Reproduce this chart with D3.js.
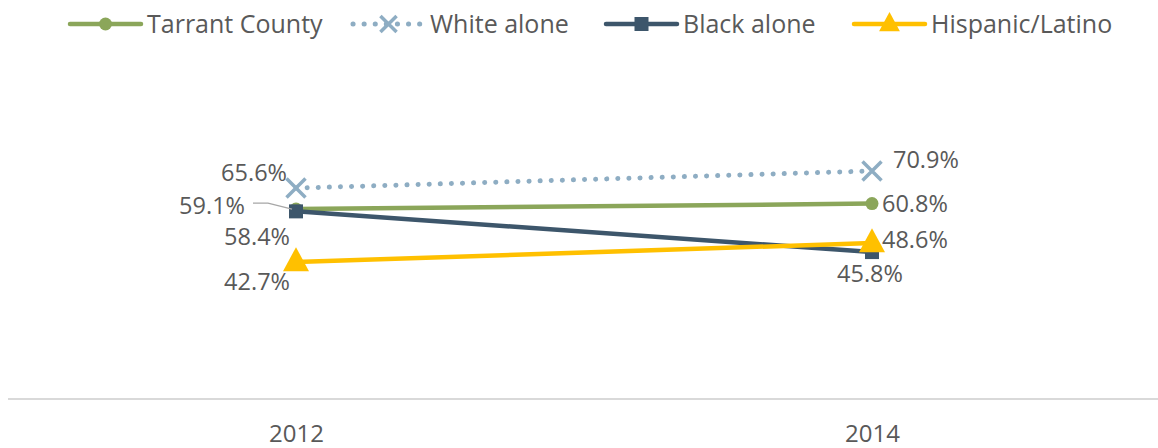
<!DOCTYPE html>
<html>
<head>
<meta charset="utf-8">
<script src="https://cdn.jsdelivr.net/npm/d3@7"></script>
<style>
  html, body { margin: 0; padding: 0; background: #fff; }
  svg { display: block; font-family: "Open Sans", sans-serif; }
</style>
</head>
<body>
<svg id="chart" width="1158" height="448"></svg>
<script>
// Share of population by group, 2012 vs 2014
const years = ["2012", "2014"];
const seriesNames = ["Tarrant County", "White alone", "Black alone", "Hispanic/Latino"];
const tarrantCounty = [59.1, 60.8];
const whiteAlone = [65.6, 70.9];
const blackAlone = [58.4, 45.8];
const hispanicLatino = [42.7, 48.6];

const W = 1158, H = 448;
const svg = d3.select("#chart");
const textColor = "#595959";

const styles = {
  "Tarrant County":  { color: "#8BA65A", marker: "circle",   dash: null },
  "White alone":     { color: "#8EADC3", marker: "cross",    dash: "0.1 11" },
  "Black alone":     { color: "#3D566B", marker: "square",   dash: null },
  "Hispanic/Latino": { color: "#FFC000", marker: "triangle", dash: null }
};

const series = [
  { name: "Tarrant County", values: tarrantCounty },
  { name: "White alone", values: whiteAlone },
  { name: "Black alone", values: blackAlone },
  { name: "Hispanic/Latino", values: hispanicLatino }
];

// Category axis spans the full width; each year sits in the middle of its band
const x = d3.scalePoint().domain(years).range([296, 872]);
const y = d3.scaleLinear().domain([0, 100]).range([400, 77]);

// Baseline axis
svg.append("line")
  .attr("x1", 8).attr("x2", 1160)
  .attr("y1", y(0) - 1).attr("y2", y(0) - 1)
  .attr("stroke", "#d9d9d9").attr("stroke-width", 2);

const xAxis = d3.axisBottom(x).tickSize(0).tickPadding(0);
const gx = svg.append("g").attr("transform", `translate(0,${y(0)})`).call(xAxis);
gx.select(".domain").remove();
gx.selectAll("text")
  .attr("dy", null)
  .attr("y", 42)
  .attr("font-family", "Open Sans, sans-serif")
  .attr("font-size", 24)
  .attr("fill", textColor);

function drawMarker(g, type, color, cx, cy, scale) {
  const s = scale || 1;
  if (type === "circle") {
    g.append("circle").attr("cx", cx).attr("cy", cy).attr("r", 6.5 * s).attr("fill", color);
  } else if (type === "square") {
    g.append("rect").attr("x", cx - 7 * s).attr("y", cy - 7 * s)
      .attr("width", 14 * s).attr("height", 14 * s).attr("fill", color);
  } else if (type === "triangle") {
    const h = 24 * s, w = 26 * s;
    g.append("path")
      .attr("d", `M${cx},${cy - h * 0.62}L${cx + w / 2},${cy + h * 0.38}L${cx - w / 2},${cy + h * 0.38}Z`)
      .attr("fill", color);
  } else if (type === "cross") {
    const r = 9.5 * s;
    g.append("path")
      .attr("d", `M${cx - r},${cy - r}L${cx + r},${cy + r}M${cx - r},${cy + r}L${cx + r},${cy - r}`)
      .attr("stroke", color).attr("stroke-width", 3.5).attr("fill", "none");
  }
}

const line = d3.line().x((d, i) => x(years[i])).y(d => y(d));

// Draw order keeps Hispanic/Latino on top of Black alone at 2014
const drawOrder = ["White alone", "Tarrant County", "Black alone", "Hispanic/Latino"];
drawOrder.forEach(name => {
  const s = series.find(d => d.name === name);
  const st = styles[name];
  const g = svg.append("g");
  g.append("path")
    .attr("d", line(s.values))
    .attr("fill", "none")
    .attr("stroke", st.color)
    .attr("stroke-width", st.dash ? 5 : 4.5)
    .attr("stroke-linecap", "round")
    .attr("stroke-dasharray", st.dash);
  s.values.forEach((v, i) => drawMarker(g, st.marker, st.color, x(years[i]), y(v)));
});

// Data label placement relative to each point: [dx, dy, anchor]
const labelOffsets = {
  "White alone":     [[-9, -16, "end"], [21, -11, "start"]],
  "Tarrant County":  [[-51, -4, "end"], [10, 0, "start"]],
  "Black alone":     [[-6, 25, "end"], [-2, 21, "middle"]],
  "Hispanic/Latino": [[-6, 19, "end"], [10, -3, "start"]]
};

// Leader line for the 2012 Tarrant County label
{
  const px = x(years[0]), py = y(tarrantCounty[0]);
  svg.append("path")
    .attr("d", `M${px - 43},${py - 6}L${px - 28},${py - 6}L${px - 4},${py}`)
    .attr("fill", "none").attr("stroke", "#a6a6a6").attr("stroke-width", 1.2);
}

series.forEach(s => {
  s.values.forEach((v, i) => {
    const [dx, dy, anchor] = labelOffsets[s.name][i];
    svg.append("text")
      .attr("x", x(years[i]) + dx)
      .attr("y", y(v) + dy)
      .attr("dy", "0.36em")
      .attr("text-anchor", anchor)
      .attr("font-size", 23.5)
      .attr("fill", textColor)
      .text(d3.format(".1f")(v) + "%");
  });
});

// Legend
const legendX = [70, 353, 606, 854];
const legend = svg.append("g");
seriesNames.forEach((name, i) => {
  const st = styles[name];
  const lx = legendX[i], ly = 24;
  legend.append("line")
    .attr("x1", lx).attr("x2", lx + 71)
    .attr("y1", ly).attr("y2", ly)
    .attr("stroke", st.color)
    .attr("stroke-width", st.dash ? 5 : 4.5)
    .attr("stroke-linecap", "round")
    .attr("stroke-dasharray", st.dash);
  drawMarker(legend, st.marker, st.color, lx + 35.5, ly, st.marker === "triangle" ? 0.8 : (st.marker === "cross" ? 0.85 : 1));
  legend.append("text")
    .attr("x", lx + 77)
    .attr("y", ly)
    .attr("dy", "0.36em")
    .attr("font-size", 25)
    .attr("fill", textColor)
    .text(name);
});
</script>
</body>
</html>
